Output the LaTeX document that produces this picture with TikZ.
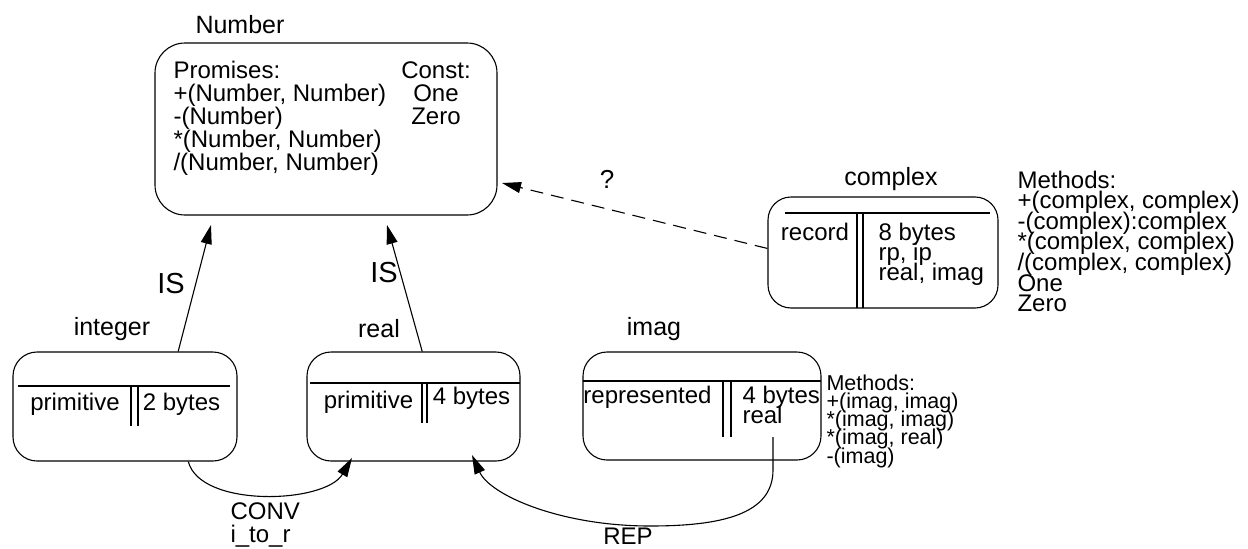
\documentclass[tikz,border=0pt]{standalone}
\usepackage{fontspec}
\setmainfont{Liberation Sans}
\usetikzlibrary{arrows.meta}
\newcommand{\colL}[2]{\vtop{\baselineskip=#1\lineskiplimit=-1000pt\lineskip=0pt\halign{##\hfil\cr#2\crcr}}}
\newcommand{\colC}[2]{\vtop{\baselineskip=#1\lineskiplimit=-1000pt\lineskip=0pt\halign{\hfil##\hfil\cr#2\crcr}}}
\begin{document}
\begin{tikzpicture}[x=1pt,y=-1pt,line width=1.1pt,
  box/.style={draw,rounded corners=24pt,inner sep=0pt,line width=1.1pt},
  txt/.style={inner sep=0pt,font=\fontsize{24}{23}\selectfont},
  ttl/.style={inner sep=0pt,anchor=base,font=\fontsize{25}{25}\selectfont},
  lbl/.style={inner sep=0pt,anchor=base,font=\fontsize{29}{29}\selectfont},
  arr/.style={-{Triangle[length=19pt,width=11pt]}},
  dsh/.style={dash pattern=on 13pt off 8pt}]
\fill[white] (0,0) rectangle (1248,549);
\useasboundingbox (0,0) rectangle (1248,549);

% ---------- Number ----------
\node[box,rounded corners=30pt,minimum width=342pt,minimum height=172pt] (num) at (326,129) {};
\node[ttl] (numT) at (240,33) {Number};
\node[txt,anchor=base west] (prom) at (173,78) {\colL{23pt}{Promises:\cr +(Number, Number)\cr -(Number)\cr *(Number, Number)\cr /(Number, Number)}};
\node[txt,anchor=base] (const) at (436,78) {\colC{23pt}{Const:\cr One\cr Zero}};

% ---------- integer ----------
\node[box,minimum width=224pt,minimum height=109pt] (int) at (125,406.5) {};
\node[ttl] (intT) at (112,335) {integer};
\draw (18,386) -- (230,386);
\draw (131,386) -- (131,426);
\draw (138,386) -- (138,426);
\node[txt,anchor=base] (intA) at (75,410) {primitive};
\node[txt,anchor=base] (intB) at (181.5,410) {2 bytes};

% ---------- real ----------
\node[box,minimum width=213pt,minimum height=109pt] (real) at (413.5,406.5) {};
\node[ttl] (realT) at (379,337) {real};
\draw (310,383) -- (520,383);
\draw (422,383) -- (422,423);
\draw (427,383) -- (427,423);
\node[txt,anchor=base] (realA) at (368.5,408) {primitive};
\node[txt,anchor=base] (realB) at (471.5,404) {4 bytes};

% ---------- imag ----------
\node[box,minimum width=238pt,minimum height=108pt] (imag) at (702,406) {};
\node[ttl] (imagT) at (654,335) {imag};
\draw (583,381) -- (821,381);
\draw (723,381) -- (723,437);
\draw (731,381) -- (731,437);
\node[txt,anchor=base] (imagA) at (647.5,403) {represented};
\node[txt,anchor=base west] (imagB) at (742,403) {\colL{20pt}{4 bytes\cr real}};
\node[inner sep=0pt,anchor=base west,font=\fontsize{21.5}{18.3}\selectfont] (imagM) at (826,390)
  {\colL{18.3pt}{Methods:\cr +(imag, imag)\cr *(imag, imag)\cr *(imag, real)\cr -(imag)}};

% ---------- complex ----------
\node[box,rounded corners=23pt,minimum width=230pt,minimum height=111pt] (cpx) at (883,252.5) {};
\node[ttl] (cpxT) at (891,185) {complex};
\draw (785,213) -- (990,213);
\draw (857,213) -- (857,308);
\draw (863,213) -- (863,308);
\node[txt,anchor=base] (cpxA) at (815,240) {record};
\node[txt,anchor=base west] (cpxB) at (878,240) {\colL{20pt}{8 bytes\cr rp, ip\cr real, imag}};
\node[txt,anchor=base west] (cpxM) at (1017,188)
  {\colL{20.6pt}{Methods:\cr +(complex, complex)\cr -(complex):complex\cr *(complex, complex)\cr /(complex, complex)\cr One\cr Zero}};

% ---------- connectors ----------
\coordinate (tIS1) at (211,225);
\coordinate (tIS2) at (387,225);
\coordinate (tQ) at (502,183);
\coordinate (tConv) at (352,458);
\coordinate (sRep) at (773,437);
\coordinate (tRep) at (472,455);

\draw[arr] (int.46.3) -- (tIS1);
\draw[arr] (real.81.1) -- (tIS2);
\draw[arr,dsh] (cpx.178.3) -- (tQ);
\draw[arr] (int.-41.3) .. controls (200,508) and (325,504) .. (tConv);
\draw[arr] (sRep) -- (773,470) .. controls (773,515) and (720,526) .. (650,526)
  .. controls (560,526) and (490,495) .. (tRep);

% ---------- labels ----------
\node[lbl] (is1) at (171,293) {IS};
\node[lbl] (is2) at (384,282) {IS};
\node[inner sep=0pt,anchor=base,font=\fontsize{26}{26}\selectfont] (q) at (607,188) {?};
\node[txt,anchor=base west] (conv) at (230,519) {\colL{23pt}{CONV\cr i\_to\_r}};
\node[txt,anchor=base] (rep) at (628,544) {REP};
\end{tikzpicture}
\end{document}
